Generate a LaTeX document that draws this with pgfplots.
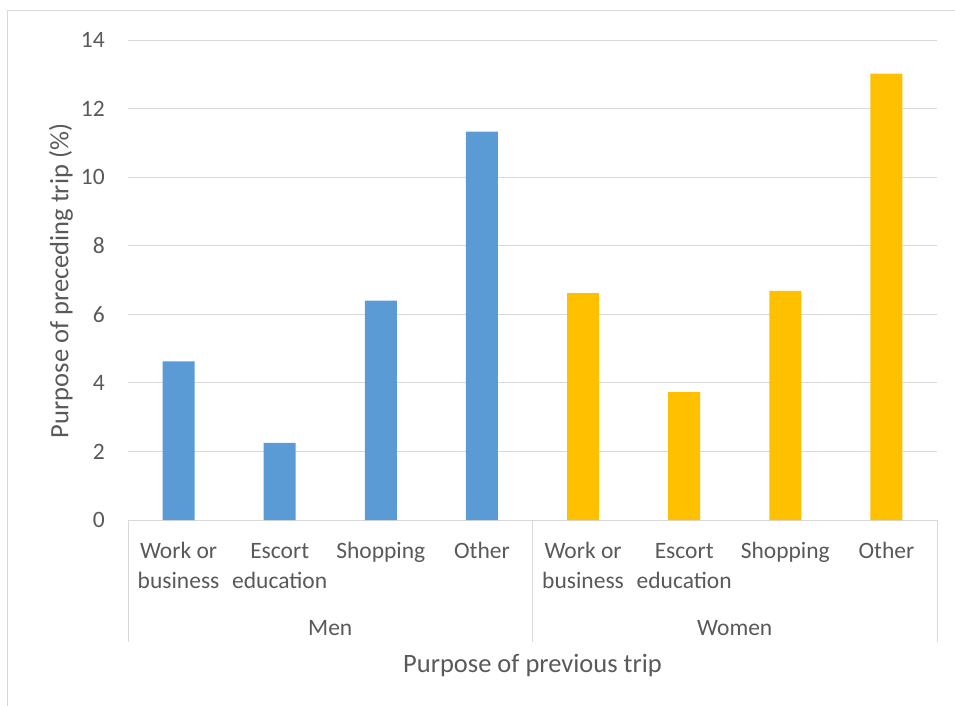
\documentclass[border=0pt]{standalone}
\usepackage{pgfplots}
\pgfplotsset{compat=1.18}
\usepackage{fontspec}
\setmainfont{Carlito}
\definecolor{menblue}{HTML}{5B9BD5}
\definecolor{womengold}{HTML}{FFC000}
\definecolor{gridgray}{HTML}{D9D9D9}
\definecolor{txtgray}{HTML}{595959}
\begin{document}
\begin{tikzpicture}
\useasboundingbox (0pt,0pt) rectangle (955pt,-706pt);
\draw[gridgray, line width=1.5pt] (7.5pt,-710pt) -- (7.5pt,-10.5pt) -- (960pt,-10.5pt);
\begin{axis}[
  at={(128pt,-520pt)}, anchor=south west,
  scale only axis, width=809pt, height=480pt,
  xmin=-0.5, xmax=7.5, ymin=0, ymax=14,
  ytick={0,2,...,14},
  xtick={0,...,7},
  xticklabels={{\strut Work or\\business},{\strut Escort\\education},{\strut Shopping},{\strut Other},{\strut Work or\\business},{\strut Escort\\education},{\strut Shopping},{\strut Other}},
  axis lines*=left,
  x axis line style={gridgray, line width=1pt, -},
  y axis line style={draw=none, -},
  major tick length=0pt,
  ymajorgrids, grid style={gridgray, line width=1pt},
  /pgf/number format/assume math mode=true,
  ticklabel style={font=\fontsize{23.5}{30}\selectfont, text=txtgray},
  xticklabel style={align=center, anchor=north, inner sep=0pt, yshift=-17pt},
  yticklabel style={anchor=east, inner sep=0pt, xshift=-23pt},
  every axis y label/.style={at={(axis description cs:-0.0828,0.498)}, anchor=center, rotate=90},
  every axis x label/.style={at={(axis description cs:0.5,0)}, anchor=center, yshift=-146pt},
  label style={font=\fontsize{26.5}{30}\selectfont, text=txtgray},
  ylabel={Purpose of preceding trip (\%)},
  xlabel={Purpose of previous trip},
  ybar, bar width=32pt, bar shift=0pt,
  clip=false,
]
\addplot[fill=menblue, draw=none] coordinates {(0,4.63) (1,2.25) (2,6.40) (3,11.33)};
\addplot[fill=womengold, draw=none] coordinates {(4,6.62) (5,3.73) (6,6.68) (7,13.02)};
\draw[gridgray, line width=1pt] (axis cs:-0.5,0) -- ++(0pt,-122pt);
\draw[gridgray, line width=1pt] (axis cs:3.5,0) -- ++(0pt,-122pt);
\draw[gridgray, line width=1pt] (axis cs:7.5,0) -- ++(0pt,-122pt);
\node[font=\fontsize{23.5}{30}\selectfont, text=txtgray] at (axis cs:1.5,0) [yshift=-108pt] {Men};
\node[font=\fontsize{23.5}{30}\selectfont, text=txtgray] at (axis cs:5.5,0) [yshift=-108pt] {Women};
\end{axis}
\end{tikzpicture}
\end{document}
